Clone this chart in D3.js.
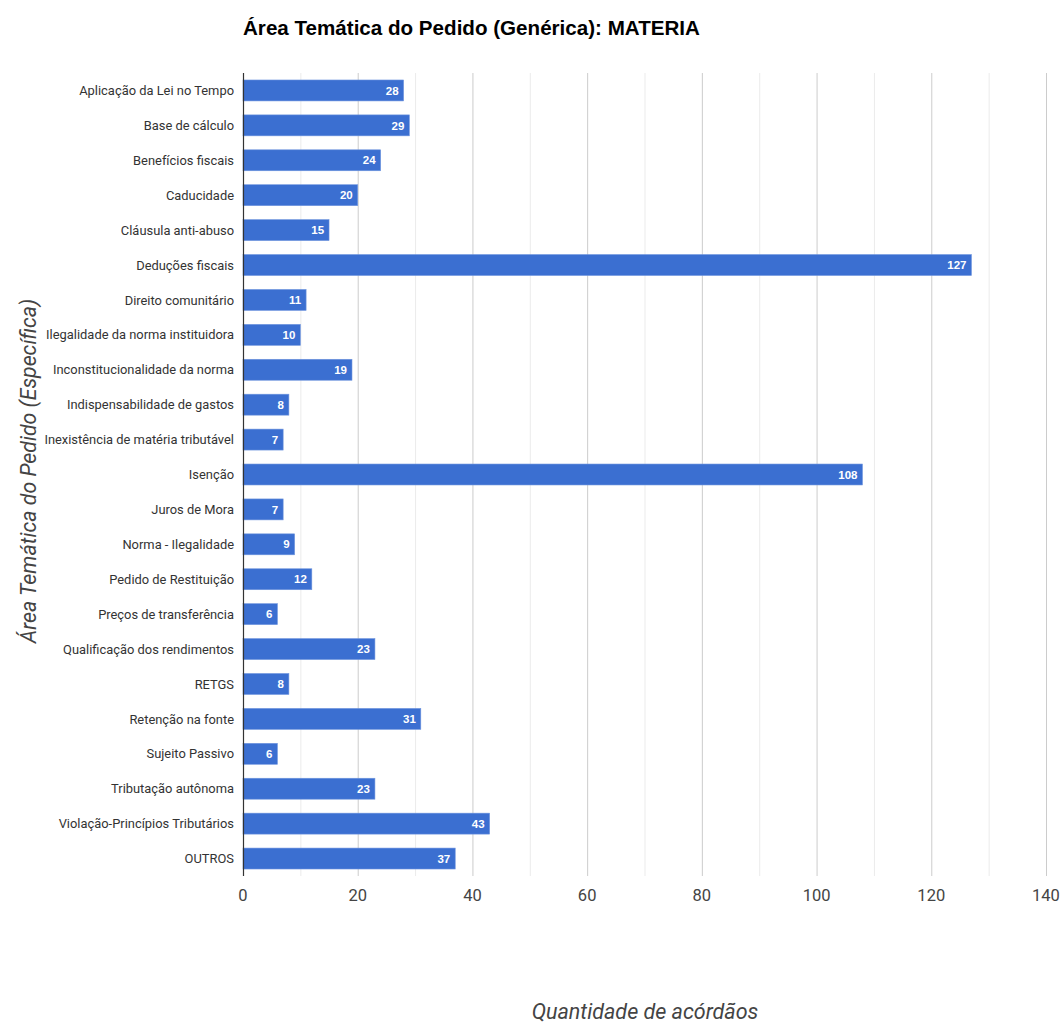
<!DOCTYPE html>
<html><head><meta charset="utf-8">
<script src="https://cdn.jsdelivr.net/npm/d3@7"></script>
<style>body{margin:0;background:#fff;font-family:Roboto,Arial,sans-serif}</style>
</head><body>
<svg id="c" width="1063" height="1023"></svg>
<script>
const categories = ["Aplicação da Lei no Tempo","Base de cálculo","Benefícios fiscais","Caducidade","Cláusula anti-abuso","Deduções fiscais","Direito comunitário","Ilegalidade da norma instituidora","Inconstitucionalidade da norma","Indispensabilidade de gastos","Inexistência de matéria tributável","Isenção","Juros de Mora","Norma - Ilegalidade","Pedido de Restituição","Preços de transferência","Qualificação dos rendimentos","RETGS","Retenção na fonte","Sujeito Passivo","Tributação autônoma","Violação-Princípios Tributários","OUTROS"];
const values = [28,29,24,20,15,127,11,10,19,8,7,108,7,9,12,6,23,8,31,6,23,43,37];
const xTicks = [0,20,40,60,80,100,120,140];
const minorTicks = [10,30,50,70,90,110,130];

const svg = d3.select("#c");
const L=243, R=1046, T=73, B=876;
const x = d3.scaleLinear().domain([0,140]).range([L,R]);
const y = d3.scaleBand().domain(categories).range([T,B]).paddingInner(0.4).paddingOuter(0.2);

svg.append("text").attr("x",243).attr("y",35).attr("font-size",20.6).attr("font-weight","bold").attr("fill","#000")
  .attr("font-family","Arial, 'Liberation Sans', sans-serif")
  .text("Área Temática do Pedido (Genérica): MATERIA");

svg.selectAll("line.minor").data(minorTicks).enter().append("line")
  .attr("x1",d=>x(d)+0.5).attr("x2",d=>x(d)+0.5).attr("y1",T).attr("y2",B).attr("stroke","#ebebeb");
svg.selectAll("line.major").data(xTicks.slice(1)).enter().append("line")
  .attr("x1",d=>x(d)+0.5).attr("x2",d=>x(d)+0.5).attr("y1",T).attr("y2",B).attr("stroke","#cccccc");

svg.selectAll("rect.bar").data(values).enter().append("rect")
  .attr("x",x(0)).attr("y",(d,i)=>y(categories[i]))
  .attr("width",d=>x(d)-x(0)).attr("height",y.bandwidth())
  .attr("fill","#3b6fd1").attr("stroke","#6f95de").attr("stroke-width",0.6);

svg.append("line").attr("x1",x(0)+0.5).attr("x2",x(0)+0.5).attr("y1",T).attr("y2",B).attr("stroke","#333").attr("stroke-width",1.2);

svg.selectAll("text.val").data(values).enter().append("text")
  .attr("x",d=>x(d)-5).attr("y",(d,i)=>y(categories[i])+y.bandwidth()/2).attr("dy","0.36em")
  .attr("text-anchor","end").attr("font-size",11.5).attr("font-weight","bold").attr("fill","#fff")
  .attr("font-family","Arial, 'Liberation Sans', sans-serif")
  .text(d=>d);

svg.selectAll("text.cat").data(categories).enter().append("text")
  .attr("x",234).attr("y",d=>y(d)+y.bandwidth()/2).attr("dy","0.36em")
  .attr("text-anchor","end").attr("font-size",12.9).attr("fill","#333").text(d=>d);

svg.selectAll("text.tick").data(xTicks).enter().append("text")
  .attr("x",d=>x(d)).attr("y",901).attr("text-anchor","middle").attr("font-size",16.5).attr("fill","#444").text(d=>d);

svg.append("text").attr("x",645).attr("y",1019).attr("text-anchor","middle").attr("font-size",21.5)
  .attr("font-style","italic").attr("fill","#444").text("Quantidade de acórdãos");

svg.append("text").attr("transform","translate(36,471) rotate(-90)").attr("text-anchor","middle").attr("font-size",21.3)
  .attr("font-style","italic").attr("fill","#444").text("Área Temática do Pedido (Específica)");
</script>
</body></html>
